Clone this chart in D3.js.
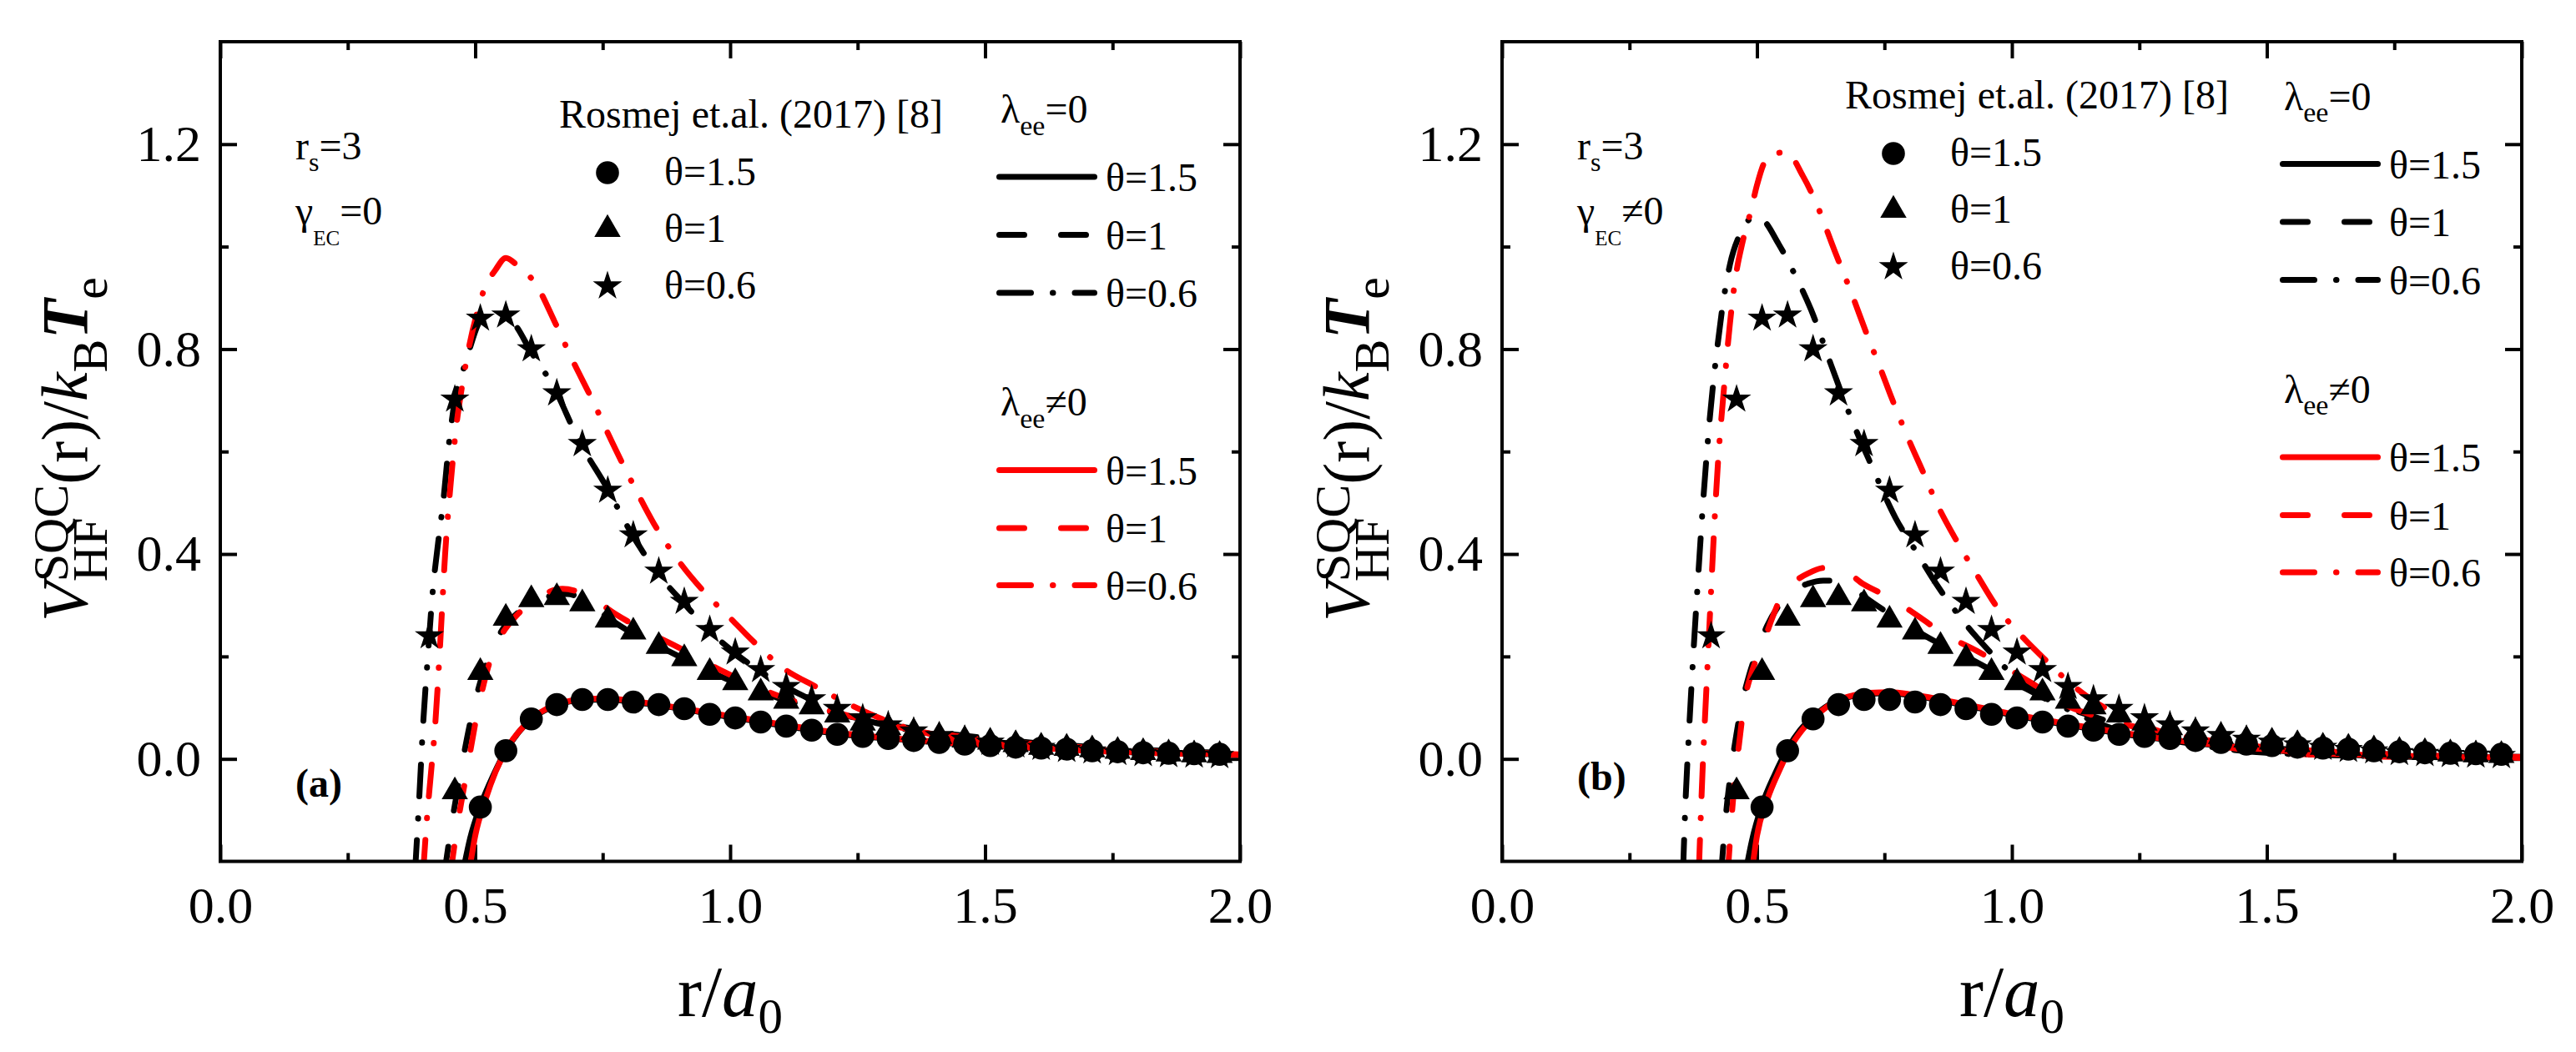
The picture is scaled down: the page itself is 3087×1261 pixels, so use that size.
<!DOCTYPE html>
<html>
<head>
<meta charset="utf-8">
<script src="https://cdn.jsdelivr.net/npm/d3@7"></script>
<style>
  body { margin: 0; background: #fff; }
  text { font-family: "Liberation Serif", "DejaVu Serif", "Times New Roman", Times, serif; }
</style>
</head>
<body>
<svg id="chart" width="3087" height="1261"></svg>
<script>
// ---- axis ticks
var xMajor = [0, 0.5, 1, 1.5, 2];
var xMinor = [0.25, 0.75, 1.25, 1.75];
var yMajor = [0, 0.4, 0.8, 1.2];
var yMinor = [0.2, 0.6, 1.0];

// ---- Rosmej et.al. (2017) data, same in both panels
var rosR15 = [0.51,0.56,0.61,0.66,0.71,0.76,0.81,0.86,0.91,0.96,1.01,1.06,1.11,1.16,1.21,1.26,1.31,1.36,1.41,1.46,1.51,1.56,1.61,1.66,1.71,1.76,1.81,1.86,1.91,1.96];
var rosV15 = [-0.094,0.016,0.078,0.106,0.116,0.116,0.111,0.106,0.098,0.087,0.080,0.072,0.064,0.056,0.048,0.044,0.040,0.036,0.032,0.029,0.026,0.023,0.021,0.019,0.016,0.014,0.012,0.011,0.010,0.009];
var rosR1 = [0.46,0.51,0.56,0.61,0.66,0.71,0.76,0.81,0.86,0.91,0.96,1.01,1.06,1.11,1.16,1.21,1.26,1.31,1.36,1.41,1.46,1.51,1.56,1.61,1.66,1.71,1.76,1.81,1.86,1.91,1.96];
var rosV1 = [-0.064,0.169,0.275,0.311,0.315,0.303,0.271,0.248,0.220,0.196,0.169,0.149,0.129,0.113,0.102,0.086,0.070,0.061,0.052,0.044,0.037,0.033,0.028,0.023,0.021,0.018,0.015,0.0125,0.010,0.008,0.007];
var rosR06 = [0.41,0.46,0.51,0.56,0.61,0.66,0.71,0.76,0.81,0.86,0.91,0.96,1.01,1.06,1.11,1.16,1.21,1.26,1.31,1.36,1.41,1.46,1.51,1.56,1.61,1.66,1.71,1.76,1.81,1.86,1.91,1.96];
var rosV06 = [0.240,0.702,0.860,0.866,0.800,0.714,0.615,0.524,0.437,0.366,0.307,0.252,0.208,0.174,0.141,0.117,0.098,0.080,0.066,0.054,0.045,0.038,0.032,0.027,0.022,0.018,0.015,0.012,0.010,0.008,0.007,0.006];

// ---- panel (a), gamma_EC = 0
var aSolidBlackR = [0.476,0.49,0.51,0.535,0.56,0.585,0.61,0.635,0.66,0.71,0.76,0.81,0.86,0.91,0.96,1.01,1.06,1.11,1.16,1.21,1.26,1.31,1.36,1.41,1.46,1.51,1.56,1.61,1.66,1.71,1.76,1.81,1.86,1.91,1.96,2.0];
var aSolidBlackV = [-0.22,-0.155,-0.092,-0.033,0.016,0.052,0.078,0.094,0.105,0.115,0.116,0.111,0.105,0.097,0.088,0.080,0.072,0.064,0.056,0.049,0.044,0.040,0.036,0.032,0.029,0.026,0.023,0.021,0.019,0.016,0.014,0.012,0.011,0.010,0.009,0.008];
var aSolidRedR = [0.488,0.50,0.52,0.54,0.565,0.59,0.615,0.64,0.67,0.71,0.76,0.81,0.86,0.91,0.96,1.01,1.06,1.11,1.16,1.21,1.26,1.31,1.36,1.41,1.46,1.51,1.56,1.61,1.66,1.71,1.76,1.81,1.86,1.91,1.96,2.0];
var aSolidRedV = [-0.22,-0.15,-0.08,-0.025,0.025,0.058,0.082,0.098,0.109,0.117,0.118,0.113,0.106,0.098,0.090,0.082,0.074,0.066,0.058,0.051,0.046,0.041,0.037,0.033,0.030,0.027,0.024,0.021,0.019,0.017,0.015,0.013,0.012,0.011,0.010,0.009];
var aDashBlackR = [0.44,0.455,0.473,0.49,0.51,0.53,0.555,0.58,0.61,0.64,0.68,0.72,0.76,0.80,0.85,0.90,0.95,1.0,1.05,1.10,1.16,1.22,1.29,1.36,1.43,1.5,1.6,1.7,1.8,1.9,2.0];
var aDashBlackV = [-0.22,-0.12,-0.017,0.07,0.15,0.205,0.255,0.282,0.305,0.316,0.322,0.306,0.276,0.250,0.225,0.200,0.176,0.153,0.134,0.117,0.100,0.086,0.071,0.059,0.049,0.041,0.031,0.024,0.018,0.014,0.011];
var aDashRedR = [0.452,0.465,0.482,0.505,0.536,0.56,0.584,0.624,0.671,0.72,0.775,0.814,0.894,0.99,1.09,1.21,1.33,1.45,1.6,1.75,1.9,2.0];
var aDashRedV = [-0.22,-0.13,-0.033,0.094,0.212,0.255,0.283,0.315,0.332,0.319,0.283,0.260,0.220,0.169,0.125,0.090,0.062,0.044,0.029,0.019,0.012,0.009];
var aDotBlackR = [0.382,0.39,0.397,0.407,0.417,0.427,0.437,0.449,0.46,0.481,0.508,0.53,0.555,0.58,0.608,0.655,0.703,0.759,0.806,0.862,0.91,0.957,1.013,1.068,1.156,1.251,1.35,1.45,1.55,1.65,1.75,1.85,1.95,2.0];
var aDotBlackV = [-0.22,-0.08,0.054,0.20,0.331,0.42,0.50,0.62,0.70,0.773,0.853,0.872,0.868,0.845,0.797,0.724,0.622,0.528,0.441,0.357,0.303,0.252,0.204,0.165,0.117,0.080,0.057,0.041,0.030,0.022,0.016,0.012,0.009,0.008];
var aDotRedR = [0.398,0.405,0.413,0.421,0.431,0.441,0.453,0.463,0.473,0.485,0.505,0.517,0.54,0.56,0.584,0.62,0.655,0.69,0.73,0.77,0.81,0.85,0.90,0.95,1.0,1.05,1.10,1.17,1.235,1.33,1.45,1.6,1.75,1.9,2.0];
var aDotRedV = [-0.22,-0.12,-0.03,0.06,0.22,0.40,0.55,0.65,0.72,0.79,0.876,0.915,0.955,0.978,0.962,0.925,0.855,0.78,0.70,0.615,0.535,0.46,0.385,0.325,0.275,0.225,0.18,0.14,0.106,0.066,0.038,0.022,0.014,0.010,0.008];

// ---- panel (b), gamma_EC != 0
var bSolidBlackR = [0.478,0.49,0.51,0.535,0.56,0.585,0.61,0.64,0.67,0.71,0.76,0.81,0.86,0.91,0.96,1.01,1.06,1.11,1.16,1.21,1.26,1.31,1.36,1.41,1.46,1.51,1.56,1.61,1.66,1.71,1.76,1.81,1.86,1.91,1.96,2.0];
var bSolidBlackV = [-0.22,-0.16,-0.09,-0.03,0.02,0.057,0.082,0.105,0.118,0.126,0.128,0.123,0.114,0.104,0.094,0.084,0.075,0.066,0.058,0.050,0.043,0.037,0.031,0.026,0.021,0.017,0.013,0.010,0.008,0.006,0.005,0.004,0.003,0.003,0.002,0.002];
var bSolidRedR = [0.49,0.50,0.52,0.545,0.57,0.595,0.62,0.65,0.68,0.72,0.76,0.81,0.86,0.91,0.96,1.01,1.06,1.11,1.16,1.21,1.26,1.31,1.36,1.41,1.46,1.51,1.56,1.61,1.66,1.71,1.76,1.81,1.86,1.91,1.96,2.0];
var bSolidRedV = [-0.22,-0.15,-0.08,-0.02,0.03,0.064,0.088,0.110,0.122,0.129,0.130,0.125,0.116,0.106,0.096,0.086,0.077,0.068,0.060,0.052,0.045,0.038,0.032,0.027,0.022,0.018,0.014,0.011,0.009,0.007,0.006,0.005,0.004,0.003,0.003,0.002];
var bDashBlackR = [0.43,0.44,0.447,0.46,0.471,0.485,0.502,0.52,0.542,0.566,0.60,0.63,0.653,0.685,0.72,0.757,0.80,0.852,0.90,0.947,1.011,1.082,1.162,1.28,1.4,1.55,1.7,1.85,2.0];
var bDashBlackV = [-0.22,-0.10,-0.039,0.05,0.11,0.165,0.215,0.26,0.298,0.325,0.342,0.348,0.348,0.335,0.31,0.285,0.258,0.228,0.205,0.180,0.146,0.110,0.082,0.050,0.032,0.018,0.010,0.006,0.004];
var bDashRedR = [0.443,0.455,0.465,0.475,0.49,0.51,0.53,0.55,0.575,0.60,0.633,0.669,0.709,0.764,0.82,0.868,0.931,0.987,1.042,1.106,1.169,1.281,1.4,1.55,1.7,1.85,2.0];
var bDashRedV = [-0.22,-0.057,0.03,0.109,0.17,0.220,0.275,0.322,0.347,0.362,0.373,0.368,0.341,0.313,0.276,0.243,0.211,0.179,0.146,0.105,0.082,0.054,0.034,0.019,0.011,0.006,0.004];
var bDotBlackR = [0.355,0.36,0.366,0.372,0.383,0.395,0.407,0.423,0.435,0.447,0.467,0.494,0.51,0.542,0.574,0.606,0.645,0.685,0.725,0.772,0.812,0.852,0.899,0.955,1.011,1.066,1.122,1.201,1.32,1.44,1.6,1.75,1.9,2.0];
var bDotBlackV = [-0.22,-0.08,0.04,0.15,0.33,0.51,0.66,0.81,0.90,0.965,1.025,1.057,1.053,1.006,0.946,0.877,0.77,0.664,0.572,0.470,0.405,0.341,0.276,0.211,0.156,0.119,0.091,0.058,0.035,0.017,0.008,0.005,0.003,0.003];
var bDotRedR = [0.386,0.393,0.40,0.407,0.415,0.423,0.435,0.447,0.458,0.472,0.488,0.50,0.515,0.535,0.558,0.59,0.614,0.653,0.685,0.717,0.741,0.764,0.796,0.828,0.852,0.892,0.931,0.971,1.019,1.066,1.114,1.162,1.217,1.32,1.44,1.6,1.75,1.9,2.0];
var bDotRedV = [-0.22,-0.03,0.12,0.265,0.43,0.57,0.72,0.85,0.94,1.01,1.07,1.12,1.165,1.182,1.184,1.138,1.09,0.99,0.91,0.825,0.765,0.705,0.627,0.555,0.50,0.425,0.36,0.296,0.24,0.193,0.148,0.112,0.082,0.045,0.02,0.008,0.004,0.003,0.003];

// ---- legend labels
var thetaLabels = ["\u03b8=1.5", "\u03b8=1", "\u03b8=0.6"];

var RED = "#ff0000", BLACK = "#000000";
var DASH = "30,44", DASHDOT = "38,26,0.5,26";
var SERIF = '"Liberation Serif", "DejaVu Serif", "Times New Roman", Times, serif';

var svg = d3.select("#chart");
var plotW = 1222, plotTop = 50, plotBottom = 1032.5;

var panels = [
  { id: "a", left: 264, tag: "(a)", tagY: 955, gam: "=0", legL: [0, 0], legR: [0, 0],
    black: [[aSolidBlackR, aSolidBlackV, null], [aDashBlackR, aDashBlackV, DASH], [aDotBlackR, aDotBlackV, DASHDOT]],
    red:   [[aSolidRedR, aSolidRedV, null], [aDashRedR, aDashRedV, DASH], [aDotRedR, aDotRedV, DASHDOT]] },
  { id: "b", left: 1800, tag: "(b)", tagY: 947, gam: "\u22600", legL: [5, -23], legR: [2, -15.5],
    black: [[bSolidBlackR, bSolidBlackV, null], [bDashBlackR, bDashBlackV, DASH], [bDotBlackR, bDotBlackV, DASHDOT]],
    red:   [[bSolidRedR, bSolidRedV, null], [bDashRedR, bDashRedV, DASH], [bDotRedR, bDotRedV, DASHDOT]] }
];

var symbols = [
  d3.symbol().type(d3.symbolCircle).size(600),
  d3.symbol().type(d3.symbolTriangle).size(430),
  d3.symbol().type(d3.symbolStar).size(380)
];
var rosSets = [[rosR15, rosV15], [rosR1, rosV1], [rosR06, rosV06]];

svg.attr("font-family", SERIF);

function styleAxis(g, fs) {
  g.attr("font-size", fs).attr("font-family", SERIF);
  g.select(".domain").remove();
  g.selectAll(".tick line").attr("stroke-width", 4);
}

panels.forEach(function(p) {
  var x = d3.scaleLinear().domain([0, 2]).range([p.left, p.left + plotW]);
  var y = d3.scaleLinear().domain([-0.2, 1.4]).range([plotBottom, plotTop]);

  svg.append("clipPath").attr("id", "clip" + p.id)
    .append("rect").attr("x", p.left).attr("y", plotTop)
    .attr("width", plotW).attr("height", plotBottom - plotTop);

  // ticks (inward, all four sides)
  var gb = svg.append("g").attr("transform", "translate(0," + plotBottom + ")");
  gb.call(d3.axisBottom(x).tickValues(xMajor).tickSizeInner(-20).tickSizeOuter(0).tickPadding(29.5).tickFormat(d3.format(".1f")));
  styleAxis(gb, 62);
  var gbm = svg.append("g").attr("transform", "translate(0," + plotBottom + ")");
  gbm.call(d3.axisBottom(x).tickValues(xMinor).tickSizeInner(-10).tickSizeOuter(0).tickFormat(""));
  styleAxis(gbm, 62);
  var gt = svg.append("g").attr("transform", "translate(0," + plotTop + ")");
  gt.call(d3.axisTop(x).tickValues(xMajor).tickSizeInner(-20).tickSizeOuter(0).tickFormat(""));
  styleAxis(gt, 62);
  var gtm = svg.append("g").attr("transform", "translate(0," + plotTop + ")");
  gtm.call(d3.axisTop(x).tickValues(xMinor).tickSizeInner(-10).tickSizeOuter(0).tickFormat(""));
  styleAxis(gtm, 62);

  var gl = svg.append("g").attr("transform", "translate(" + p.left + ",0)");
  gl.call(d3.axisLeft(y).tickValues(yMajor).tickSizeInner(-20).tickSizeOuter(0).tickPadding(23).tickFormat(d3.format(".1f")));
  styleAxis(gl, 62);
  var glm = svg.append("g").attr("transform", "translate(" + p.left + ",0)");
  glm.call(d3.axisLeft(y).tickValues(yMinor).tickSizeInner(-10).tickSizeOuter(0).tickFormat(""));
  styleAxis(glm, 62);
  var gr = svg.append("g").attr("transform", "translate(" + (p.left + plotW) + ",0)");
  gr.call(d3.axisRight(y).tickValues(yMajor).tickSizeInner(-20).tickSizeOuter(0).tickFormat(""));
  styleAxis(gr, 62);
  var grm = svg.append("g").attr("transform", "translate(" + (p.left + plotW) + ",0)");
  grm.call(d3.axisRight(y).tickValues(yMinor).tickSizeInner(-10).tickSizeOuter(0).tickFormat(""));
  styleAxis(grm, 62);

  // curves
  var line = d3.line().x(function(d) { return x(d[0]); }).y(function(d) { return y(d[1]); })
    .curve(d3.curveMonotoneX);
  var plot = svg.append("g").attr("clip-path", "url(#clip" + p.id + ")");
  function drawCurves(list, color) {
    list.forEach(function(c) {
      var pts = c[0].map(function(r, i) { return [r, c[1][i]]; });
      plot.append("path").datum(pts).attr("d", line)
        .attr("fill", "none").attr("stroke", color).attr("stroke-width", 7)
        .attr("stroke-linecap", "round").attr("stroke-linejoin", "round")
        .attr("stroke-dasharray", c[2]);
    });
  }
  drawCurves(p.black, BLACK);
  drawCurves(p.red, RED);

  // Rosmej markers
  rosSets.forEach(function(s, k) {
    plot.selectAll(null).data(s[0].map(function(r, i) { return [r, s[1][i]]; }))
      .enter().append("path")
      .attr("d", symbols[k])
      .attr("transform", function(d) { return "translate(" + x(d[0]) + "," + y(d[1]) + ")"; })
      .attr("fill", BLACK);
  });

  // frame
  svg.append("rect").attr("x", p.left).attr("y", plotTop)
    .attr("width", plotW).attr("height", plotBottom - plotTop)
    .attr("fill", "none").attr("stroke", BLACK).attr("stroke-width", 4);

  // axis titles
  var xt = svg.append("text").attr("x", p.left + plotW / 2).attr("y", 1218)
    .attr("text-anchor", "middle").attr("font-size", 87);
  xt.append("tspan").text("r/");
  xt.append("tspan").attr("font-style", "italic").text("a");
  xt.append("tspan").attr("font-size", 59).attr("dy", 20).text("0");

  var yt = svg.append("text")
    .attr("transform", "translate(" + (p.left - 160.5) + ",745) rotate(-90)")
    .attr("font-size", 78);
  yt.append("tspan").attr("font-style", "italic").text("V");
  var hf = yt.append("tspan").attr("font-size", 60).attr("dy", 24).text("HF");
  var sqc = yt.append("tspan").attr("font-size", 60).attr("dy", -47).text("SQC");
  sqc.attr("dx", -hf.node().getComputedTextLength());
  yt.append("tspan").attr("dy", 23).text("(r)/");
  yt.append("tspan").attr("font-style", "italic").text("k");
  yt.append("tspan").attr("font-size", 60).attr("dy", 24).text("B");
  yt.append("tspan").attr("font-style", "italic").attr("font-weight", "bold").attr("dy", -24).text("T");
  yt.append("tspan").attr("font-size", 60).attr("dy", 24).text("e");

  // r_s and gamma_EC notes
  var t1 = svg.append("text").attr("x", p.left + 90).attr("y", 190.6).attr("font-size", 48);
  t1.append("tspan").text("r");
  t1.append("tspan").attr("font-size", 32).attr("dy", 14.5).text("s");
  t1.append("tspan").attr("dy", -14.5).text("=3");
  var t2 = svg.append("text").attr("x", p.left + 90).attr("y", 269.4).attr("font-size", 48);
  t2.append("tspan").text("\u03b3");
  t2.append("tspan").attr("font-size", 25).attr("dy", 25).text("EC");
  t2.append("tspan").attr("dy", -25).text(p.gam);

  svg.append("text").attr("x", p.left + 90).attr("y", p.tagY)
    .attr("font-size", 48).attr("font-weight", "bold").text(p.tag);

  // legend: markers
  var lx = p.left + p.legL[0], ly = p.legL[1];
  svg.append("text").attr("x", lx + 406).attr("y", 152.8 + ly).attr("font-size", 48)
    .text("Rosmej et.al. (2017) [8]");
  var rowY = [207, 275, 343];
  rowY.forEach(function(yy, k) {
    svg.append("path").attr("d", symbols[k])
      .attr("transform", "translate(" + (lx + 464) + "," + (yy + ly) + ")").attr("fill", BLACK);
    svg.append("text").attr("x", lx + 532).attr("y", yy + ly + 15).attr("font-size", 48)
      .text(thetaLabels[k]);
  });

  // legend: lines
  var rx = p.left + p.legR[0], ry = p.legR[1];
  function lamTitle(yy, rel) {
    var t = svg.append("text").attr("x", rx + 935).attr("y", yy + ry).attr("font-size", 48);
    t.append("tspan").text("\u03bb");
    t.append("tspan").attr("font-size", 34).attr("dy", 14.7).text("ee");
    t.append("tspan").attr("dy", -14.7).text(rel);
  }
  lamTitle(147, "=0");
  lamTitle(498, "\u22600");
  var dashes = [null, DASH, DASHDOT];
  var lineY = [[212, 281.5, 351], [563.5, 633, 701.5]];
  [BLACK, RED].forEach(function(col, gi) {
    lineY[gi].forEach(function(yy, k) {
      svg.append("line").attr("x1", rx + 933.5).attr("x2", rx + 1047.5)
        .attr("y1", yy + ry).attr("y2", yy + ry)
        .attr("stroke", col).attr("stroke-width", 7).attr("stroke-linecap", "round")
        .attr("stroke-dasharray", dashes[k]);
      svg.append("text").attr("x", rx + 1061).attr("y", yy + ry + 17).attr("font-size", 48)
        .text(thetaLabels[k]);
    });
  });
});
</script>
</body>
</html>
